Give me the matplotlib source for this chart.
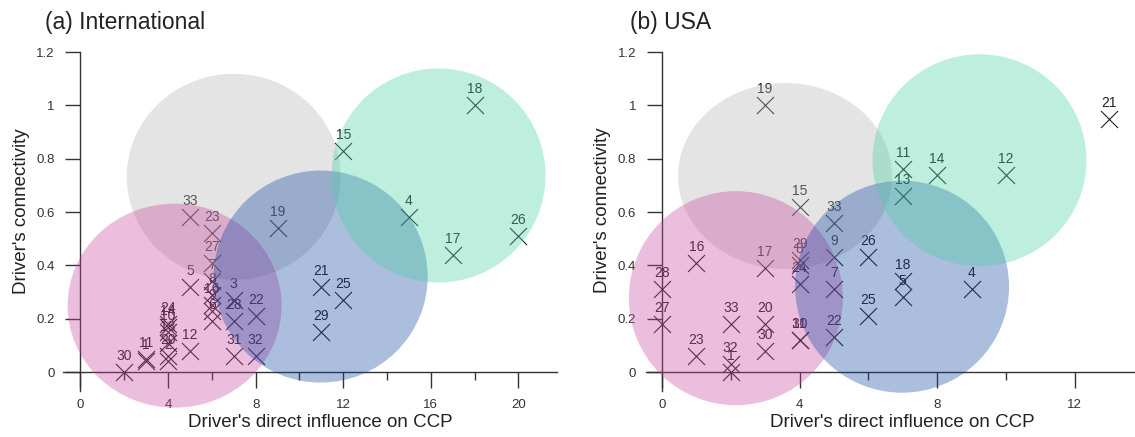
import matplotlib
matplotlib.use("Agg")
import matplotlib.pyplot as plt
from matplotlib.patches import Ellipse
from matplotlib.ticker import FixedLocator

plt.rcParams['font.family'] = ['Liberation Sans Narrow', 'Liberation Sans', 'DejaVu Sans']

# ---------------- data ----------------
# (a) International
a_ids = [30, 11, 1, 24, 14, 10, 13, 20, 2, 12, 5, 33, 23, 27, 7, 8, 16, 9, 6,
         3, 28, 31, 22, 32, 19, 21, 25, 29, 15, 4, 18, 17, 26]
a_x = [2, 3, 3, 4, 4, 4, 4, 4, 4, 5, 5, 5, 6, 6, 6, 6, 6, 6, 6,
       7, 7, 7, 8, 8, 9, 11, 12, 11, 12, 15, 18, 17, 20]
a_y = [0.00, 0.05, 0.04, 0.18, 0.17, 0.15, 0.11, 0.06, 0.04, 0.08, 0.32, 0.58,
       0.52, 0.41, 0.34, 0.29, 0.25, 0.23, 0.19,
       0.27, 0.19, 0.06, 0.21, 0.06, 0.54, 0.32, 0.27, 0.15, 0.83, 0.58, 1.00,
       0.44, 0.51]

# (b) USA
b_ids = [19, 21, 11, 14, 12, 13, 15, 33, 29, 8, 24, 9, 7, 26, 25, 18, 5, 4,
         28, 27, 16, 17, 23, 33, 32, 1, 20, 30, 31, 10, 22]
b_x = [3, 13, 7, 8, 10, 7, 4, 5, 4, 4, 4, 5, 5, 6, 6, 7, 7, 9,
       0, 0, 1, 3, 1, 2, 2, 2, 3, 3, 4, 4, 5]
b_y = [1.00, 0.95, 0.76, 0.74, 0.74, 0.66, 0.62, 0.56, 0.42, 0.40, 0.33, 0.43,
       0.31, 0.43, 0.21, 0.34, 0.28, 0.31,
       0.31, 0.18, 0.41, 0.39, 0.06, 0.18, 0.03, 0.00, 0.18, 0.08, 0.12, 0.12, 0.13]

# cluster circles (grey, pink, blue, green): centre in data units, radii in pixels
a_circ_x = [7.0, 4.3, 10.97, 16.35]
a_circ_y = [0.732, 0.249, 0.358, 0.737]
a_circ_rx = [107, 107, 107, 107]
a_circ_ry = [103, 102, 106, 107]
b_circ_x = [3.58, 2.15, 6.98, 9.23]
b_circ_y = [0.735, 0.277, 0.32, 0.794]
b_circ_rx = [107, 107, 107, 107]
b_circ_ry = [93, 107, 106, 106]
circ_colors = [(0.70, 0.70, 0.70), (0.78, 0.27, 0.63), (0.07, 0.27, 0.63), (0.27, 0.81, 0.63)]

xticks_a = [0, 4, 8, 12, 16, 20]
xminor_a = [2, 6, 10, 14, 18]
xticks_b = [0, 4, 8, 12]
xminor_b = [2, 6, 10]
yticks = [0, 0.2, 0.4, 0.6, 0.8, 1.0, 1.2]
ytick_labels = ['0', '0.2', '0.4', '0.6', '0.8', '1', '1.2']

W, H = 1135, 437
fig = plt.figure(figsize=(W / 100, H / 100), dpi=100)


def px_box(l, r, t, b):
    return [l / W, (H - b) / H, (r - l) / W, (b - t) / H]


def panel(box, xlim, ids, xs, ys, cx, cy, crx, cry, xt, xm, title, title_x):
    ax = fig.add_axes(px_box(*box))
    ax.set_xlim(*xlim)
    ax.set_ylim(-0.07, 1.2)
    for s in ['top', 'right']:
        ax.spines[s].set_visible(False)
    ax.spines['left'].set_position(('data', 0))
    ax.spines['bottom'].set_position(('data', 0))
    for s in ['left', 'bottom']:
        ax.spines[s].set_color('#333333')
        ax.spines[s].set_linewidth(1.0)
    ax.xaxis.set_major_locator(FixedLocator(xt))
    ax.xaxis.set_minor_locator(FixedLocator(xm))
    ax.set_xticklabels([str(v) for v in xt])
    ax.set_yticks(yticks)
    ax.set_yticklabels(ytick_labels)
    ax.tick_params(axis='x', which='major', length=11.5, width=1.0, pad=8,
                   labelsize=9.5, colors='#333333')
    ax.tick_params(axis='x', which='minor', length=5.5, width=1.0, colors='#333333')
    ax.tick_params(axis='y', which='major', length=10.5, width=1.0, pad=8,
                   labelsize=9.5, colors='#333333')
    ax.patch.set_alpha(0)

    ax.scatter(xs, ys, marker='x', s=150, linewidths=0.8, color='#222222', zorder=2,
               clip_on=False)
    for i, xv, yv in zip(ids, xs, ys):
        ax.annotate(str(i), (xv, yv), xytext=(0, 6.5), textcoords='offset points',
                    ha='center', va='bottom', fontsize=10, color='#222222', zorder=2,
                    annotation_clip=False)

    fig.canvas.draw()
    p0 = ax.transData.transform((0, 0))
    p1 = ax.transData.transform((1, 1))
    sx = p1[0] - p0[0]
    sy = p1[1] - p0[1]
    for x0, y0, rx, ry, c in zip(cx, cy, crx, cry, circ_colors):
        e = Ellipse((x0, y0), width=2 * rx / sx, height=2 * ry / sy, facecolor=c,
                    edgecolor='none', alpha=0.35, zorder=3, clip_on=False)
        ax.add_patch(e)

    ax.set_xlabel("Driver's direct influence on CCP", fontsize=13.5, color='#222222')
    ax.set_ylabel("Driver's connectivity", fontsize=13.5, color='#222222')
    fig.text(title_x / W, 1 - 22 / H, title, fontsize=16.5, color='#222222',
             ha='left', va='center')
    return ax


axa = panel((62.9, 557, 52, 390.7), (-0.8, 21.76), a_ids, a_x, a_y,
            a_circ_x, a_circ_y, a_circ_rx, a_circ_ry, xticks_a, xminor_a,
            '(a) International', 45)
axa.xaxis.set_label_coords(0.52, -0.068)
axa.yaxis.set_label_coords(-0.067, 0.53)
axb = panel((645.7, 1135, 52, 390.7), (-0.47, 13.75), b_ids, b_x, b_y,
            b_circ_x, b_circ_y, b_circ_rx, b_circ_ry, xticks_b, xminor_b, '(b) USA', 630)
axb.xaxis.set_label_coords(0.524, -0.068)
axb.yaxis.set_label_coords(-0.071, 0.533)

fig.savefig('out.png', dpi=100)
